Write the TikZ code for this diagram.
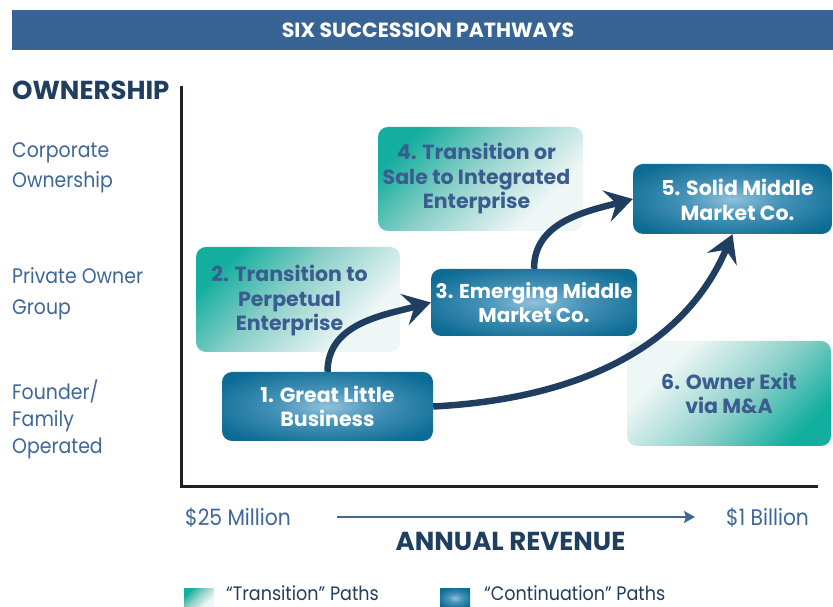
\documentclass[tikz,border=0pt]{standalone}
\usepackage{fontspec}
\setmainfont{Poppins}[FakeStretch=0.9, BoldFeatures={FakeStretch=1.0}]
\usetikzlibrary{arrows.meta}

\definecolor{navy}{HTML}{1F3E60}
\definecolor{axisblue}{HTML}{3D6699}
\definecolor{barblue}{HTML}{386495}
\definecolor{slate}{HTML}{3B5C8E}
\definecolor{contout}{HTML}{0E6C94}
\definecolor{contmid}{HTML}{4793B9}
\definecolor{contin}{HTML}{8FC2DB}
\definecolor{tealdark}{HTML}{14AE9F}
\definecolor{tealmid}{HTML}{8ACFC8}
\definecolor{teallight}{HTML}{EEF7F6}
\definecolor{axisblack}{HTML}{231F20}

% glow in the middle of a "continuation" box
\pgfdeclareradialshading{contshade}{\pgfpoint{0bp}{0bp}}{%
  color(0bp)=(contin); color(12bp)=(contmid); color(30bp)=(contout); color(50bp)=(contout)}
% teal corner fading to white for a "transition" box
\pgfdeclareverticalshading{transshade}{100bp}{%
  color(0bp)=(teallight); color(30bp)=(teallight); color(55bp)=(tealmid);
  color(75bp)=(tealdark); color(100bp)=(tealdark)}

\tikzset{
  pathtext/.style={inner sep=0pt, align=center,
    font=\bfseries\fontsize{20.5}{24.5}\selectfont},
  pathbox/.style={pathtext, rounded corners=10pt},
  contbox/.style={pathbox, shade, shading=contshade, text=white},
  transbox/.style={pathbox, shade, shading=transshade, shading angle=45, text=slate},
  transboxr/.style={transbox, shading angle=225},
  flow/.style={draw=navy, line width=6.5pt,
    -{Stealth[length=27pt,width=32pt,inset=10pt]}},
  sidelabel/.style={anchor=base west, inner sep=0pt, text=axisblue,
    font=\fontsize{21}{25}\selectfont},
  ticklabel/.style={anchor=base west, inner sep=0pt, text=axisblue,
    font=\fontsize{22.5}{26}\selectfont},
  legendtext/.style={anchor=base west, inner sep=0pt, text=navy,
    font=\fontsize{19.5}{23}\selectfont},
}

\begin{document}
\begin{tikzpicture}[x=1pt,y=1pt]
\useasboundingbox (0,0) rectangle (833,607);

% title bar
\node[fill=barblue, minimum width=821pt, minimum height=40pt, inner sep=0pt,
  text=white, font=\bfseries\fontsize{20.5}{24}\selectfont] (title) at (422.5,577)
  {\hspace*{11pt}SIX SUCCESSION PATHWAYS};

% axes
\coordinate (axtop) at (181,521);
\coordinate (origin) at (181,120);
\coordinate (axright) at (818,120);
\draw[axisblack, line width=3pt] (axtop) -- (origin) -- (axright);

\node[anchor=base west, inner sep=0pt, text=navy,
  font=\bfseries\fontsize{26}{30}\selectfont] (own) at (12,507) {OWNERSHIP};

% ownership levels
\node[sidelabel] (corpA) at (12,449) {Corporate};
\node[sidelabel] (corpB) at (12,419) {Ownership};
\node[sidelabel] (privA) at (12,323) {Private Owner};
\node[sidelabel] (privB) at (12,292) {Group};
\node[sidelabel] (famA) at (12,207) {Founder/};
\node[sidelabel] (famB) at (12,180) {Family};
\node[sidelabel] (famC) at (12,153) {Operated};

% the six pathways
\node[contbox, minimum width=211pt, minimum height=69pt] (b1) at (327.5,200.5)
  {1. Great Little\\Business};
\node[transbox, minimum width=204pt, minimum height=105pt] (b2) at (298,307.5) {};
\node[pathtext, text=slate, xshift=-8.5pt, yshift=-1.5pt] (b2text) at (b2.center)
  {2. Transition to\\Perpetual\\Enterprise};
\node[contbox, minimum width=206pt, minimum height=67pt,
  font=\bfseries\fontsize{20}{24.5}\selectfont] (b3) at (534,304.5)
  {3. Emerging Middle\\Market Co.};
\node[transbox, minimum width=205pt, minimum height=104pt] (b4) at (480.5,428) {};
\node[pathtext, text=slate, xshift=-4pt] (b4text) at (b4.center)
  {4. Transition or\\Sale to Integrated\\Enterprise};
\node[contbox, minimum width=199pt, minimum height=70pt] (b5) at (732.5,408) {};
\node[pathtext, text=white, xshift=5pt, yshift=-1pt] (b5text) at (b5.center)
  {5. Solid Middle\\Market Co.};
\node[transboxr, minimum width=204pt, minimum height=105pt] (b6) at (729,213.5)
  {6. Owner Exit\\via M\&A};

% growth paths
\draw[flow] (b1.north) to[out=90, in=195] (b3.west);
\draw[flow] (b3.north) to[out=90, in=195] (b5.west);
\draw[flow] (b1.east) .. controls +(3:150) and +(247:120) .. (b5.south);

% revenue axis
\node[ticklabel] (low) at (185,81) {\$25 Million};
\node[ticklabel] (high) at (726,81) {\$1 Billion};
\coordinate (revA) at (337,90);
\coordinate (revB) at (695,90);
\draw[axisblue, line width=2pt, -{Stealth[length=11pt,width=12pt,inset=2pt]}] (revA) -- (revB);
\node[anchor=base, inner sep=0pt, text=navy,
  font=\bfseries\fontsize{26}{30}\selectfont] (rev) at (510.5,56) {ANNUAL REVENUE};

% legend
\node[shade, shading=transshade, shading angle=45, minimum width=30pt,
  minimum height=18pt, inner sep=0pt] (keyT) at (199,9) {};
\node[legendtext] (keyTtext) at (226,6) {“Transition” Paths};
\node[shade, shading=contshade, minimum width=30pt,
  minimum height=18pt, inner sep=0pt] (keyC) at (455,9) {};
\node[legendtext] (keyCtext) at (484,6) {“Continuation” Paths};
\end{tikzpicture}
\end{document}
